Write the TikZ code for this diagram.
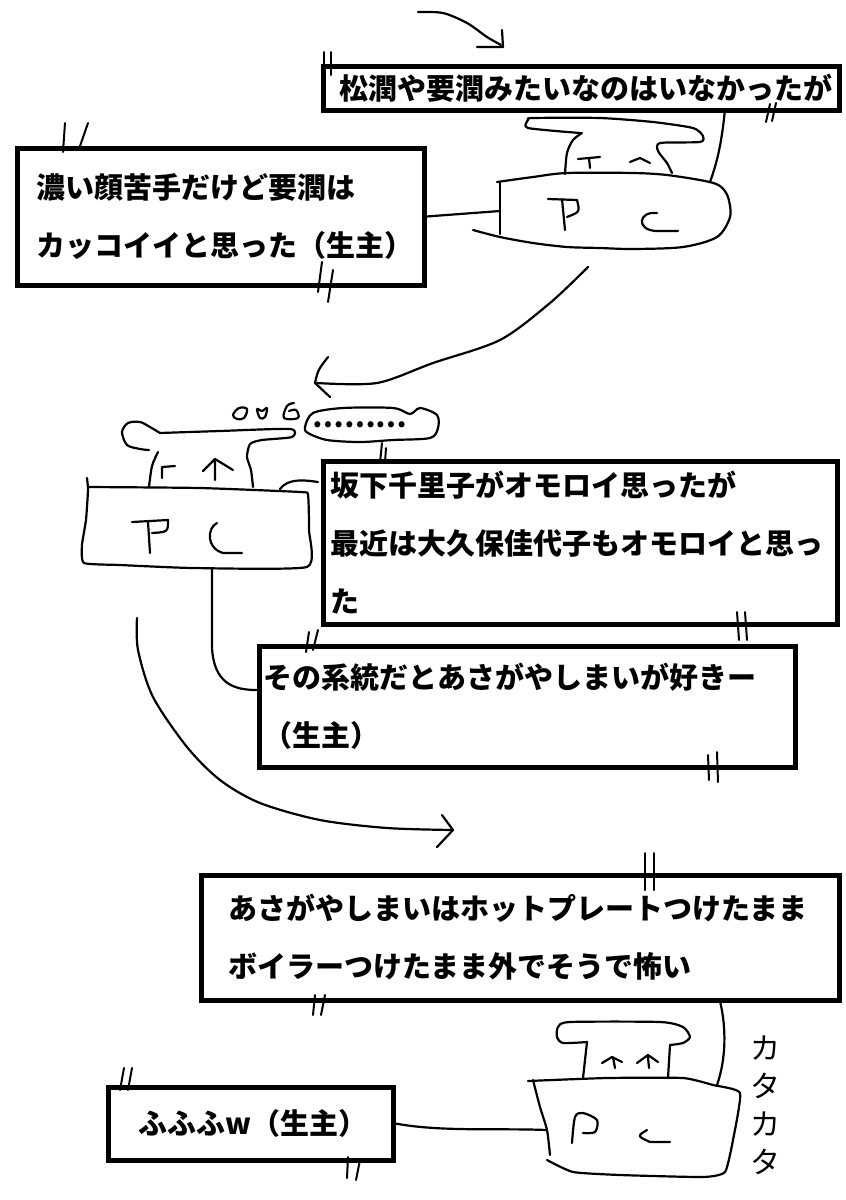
\documentclass[tikz,border=0pt]{standalone}
\usepackage{fontspec}
\newfontfamily\jpfont{Noto Sans CJK JP}
\usetikzlibrary{positioning}
\tikzset{hand/.style={line width=2.2pt, line cap=round, line join=round},
	tick/.style={line width=2pt, line cap=round},
	msgbox/.style={draw, line width=5pt, anchor=north west, align=left, inner ysep=0pt,
		font=\jpfont\bfseries\fontsize{29pt}{58pt}\selectfont},
	scribble/.style={align=center, inner sep=0pt, font=\jpfont\fontsize{30pt}{38pt}\selectfont}}

\begin{document}
\begin{tikzpicture}[x=1pt,y=-1pt]
		\useasboundingbox[fill=white] (0,0) rectangle (846,1200);
		% text boxes
		\node[msgbox, text width=492pt, inner xsep=12pt, minimum height=44pt] (msgtop) at (320.5,63.5) {\hspace*{4pt}松潤や要潤みたいなのはいなかったが};
		\node[msgbox, text width=379pt, inner xsep=14pt, minimum height=137pt] (msgleft) at (14.5,145.5) {\hspace*{5pt}濃い顔苦手だけど要潤は\\\hspace*{5pt}カッコイイと思った（生主）};
		\node[msgbox, text width=500pt, inner xsep=7pt, minimum height=163pt] (msgA) at (320.5,458.5) {坂下千里子がオモロイ思ったが\\最近は大久保佳代子もオモロイと思っ\\た};
		\node[msgbox, text width=528pt, inner xsep=4pt, minimum height=121pt] (msgB) at (256.5,643.5) {その系統だとあさがやしまいが好きー\\ （生主）};
		\node[msgbox, text width=584pt, inner xsep=27pt, minimum height=125pt] (msgC) at (198.5,872.5) {あさがやしまいはホットプレートつけたまま\\ボイラーつけたまま外でそうで怖い};
		\node[msgbox, text width=225pt, inner xsep=30pt, minimum height=73pt] (msgD) at (105.5,1084.5) {ふふふw（生主）};
		
		% first PC
		\coordinate (pcone) at (500,211);
		\coordinate (pconetop) at (710,182);
		\draw[hand] plot[smooth, tension=0.5] coordinates {(473,230) (500,237) (533,243) (567,247) (600,248) (633,249) (683,247) (717,237) (730,217) (728,197) (720,186) (705,181) (667,175) (633,173) (567,173) (533,177) (497,182)};
		\draw[hand] (500,182) -- (500,234);
		\draw[hand] plot[smooth, tension=0.5] coordinates {(565,174) (567,153) (573,140) (582,133)};
		\draw[hand] plot[smooth, tension=0.4] coordinates {(580,133) (528,128) (528,120) (533,118) (600,118) (653,122) (693,128) (703,136) (700,142) (660,143) (658,151) (667,163) (672,173)};
		\draw[hand] (578,159) -- (600,157) (589,158) -- (590,168);
		\draw[hand] (630,162) -- (640,158) -- (650,163);
		\draw[hand] (548,199) -- (577,200) (562,199) -- (565,230);
		\draw[hand] (577,200) .. controls (580,212) .. (567,217);
		\draw[hand] (657,213) .. controls (638,211) and (636,230) .. (656,231) -- (678,231);
		\draw[hand] (msgleft.east) -- (pcone);
		\draw[hand] (725,109) .. controls (722,140) and (718,160) .. (pconetop);
		
		% second PC
		\coordinate (pctwo) at (212,568);
		\coordinate (boxAin) at (318,482);
		\draw[hand] plot[smooth, tension=0.3] coordinates {(87,478) (88,490) (86,520) (82,545) (84,563) (120,565) (193,568) (307,567) (309,530) (308,495) (300,492) (200,488) (88,487)};
		\draw[hand] plot[smooth, tension=0.5] coordinates {(160,433) (150,427) (140,422) (128,423) (122,432) (127,445) (140,449) (149,450)};
		\draw[hand] plot[smooth, tension=0.5] coordinates {(158,452) (152,466) (149,487)};
		\draw[hand] plot[smooth, tension=0.4] coordinates {(160,433) (220,431) (290,429) (292,437) (262,440) (250,444) (247,457) (251,470) (253,487)};
		\draw[hand] (162,478) -- (162,467) -- (175,466);
		\draw[hand] (203,471) -- (215,459) -- (233,470) (215,460) -- (215,480);
		\draw[hand] (132,522) -- (168,520) (148,522) -- (150,553);
		\draw[hand] (168,520) .. controls (168,532) .. (152,533);
		\draw[hand] (217,523) .. controls (207,528) and (206,548) .. (223,553) -- (242,553);
		\draw[hand] plot[smooth cycle, tension=0.6] coordinates {(233,415) (239,408) (247,409) (244,418) (237,419)};
		\draw[hand] plot[smooth cycle, tension=0.6] coordinates {(257,409) (262,411) (267,408) (265,417) (260,418)};
		\draw[hand] plot[smooth, tension=0.6] coordinates {(294,403) (287,406) (284,418) (298,418) (296,410) (289,411)};
		\draw[hand] plot[smooth cycle, tension=0.5] coordinates {(305,427) (313,413) (343,408) (393,408) (410,414) (420,408) (437,415) (438,428) (430,438) (393,440) (360,442) (327,440) (308,433)};
		\node[font=\jpfont\bfseries\fontsize{28pt}{30pt}\selectfont, inner sep=0pt] (thought) at (360,425) {………};
		\draw[hand] (280,489) .. controls (288,478) and (305,480) .. (boxAin);
		\draw[hand] (pctwo) -- (212,648) .. controls (214,682) and (232,690) .. (msgB.west |- 0,690);
		
		% third PC
		\coordinate (pcthree) at (546,1130);
		\coordinate (pcthreetop) at (717,1085);
		\draw[hand] plot[smooth, tension=0.3] coordinates {(528,1081) (607,1078) (683,1078) (713,1085) (740,1093) (733,1140) (725,1172) (703,1177) (620,1175) (573,1172) (547,1160)};
		\draw[hand] plot[smooth, tension=0.4] coordinates {(533,1080) (540,1107) (547,1130) (550,1155)};
		\draw[hand] (583,1078) -- (587,1042);
		\draw[hand] plot[smooth, tension=0.4] coordinates {(587,1042) (563,1043) (557,1037) (558,1027) (570,1022) (660,1022) (683,1027) (690,1037) (683,1043) (670,1045)};
		\draw[hand] (670,1045) -- (668,1078);
		\draw[hand] (602,1063) -- (612,1057) -- (622,1062) (613,1057) -- (615,1068);
		\draw[hand] (637,1063) -- (648,1055) -- (658,1062) (648,1057) -- (649,1068);
		\draw[hand] plot[smooth, tension=0.5] coordinates {(572,1143) (575,1117) (583,1113) (597,1120) (595,1132) (583,1133)};
		\draw[hand] (647,1130) .. controls (637,1136) .. (650,1142) -- (670,1142);
		\draw[hand] (720,1001) .. controls (728,1035) and (724,1065) .. (pcthreetop);
		\draw[hand] (msgD.east) .. controls (440,1132) and (500,1128) .. (pcthree);
		\node[scribble] (clatter) at (765,1105) {カ\\タ\\カ\\タ};
		
		% arrows
		\draw[hand] plot[smooth] coordinates {(418,12) (443,13) (467,23) (487,37) (501,45)};
		\draw[hand] (502,30) -- (503,47) -- (477,47);
		\draw[hand] plot[smooth] coordinates {(588,267) (550,303) (500,340) (433,363) (377,383) (317,383)};
		\draw[hand] (328,357) .. controls (318,370) .. (315,383) -- (330,397);
		\draw[hand] plot[smooth] coordinates {(137,618) (138,650) (153,697) (187,747) (220,780) (260,803) (320,820) (387,828) (453,830)};
		\draw[hand] (442,815) -- (453,830) -- (437,847);
		
		% ticks
		\draw[tick] (324,52) -- (324,75) (331,52) -- (331,75);
		\draw[tick] (766,122) -- (770,104) (772,121) -- (776,103);
		\draw[tick] (65,123) -- (63,152) (88,123) -- (79,149);
		\draw[tick] (322,262) -- (318,292) (333,270) -- (328,302);
		\draw[tick] (382,443) -- (380,463) (386,448) -- (385,462);
		\draw[tick] (737,612) -- (739,640) (745,612) -- (747,640);
		\draw[tick] (306,652) -- (309,632) (313,650) -- (318,630);
		\draw[tick] (708,755) -- (709,780) (717,752) -- (718,782);
		\draw[tick] (645,853) -- (645,890) (654,853) -- (654,890);
		\draw[tick] (313,1015) -- (315,995) (321,1015) -- (325,995);
		\draw[tick] (120,1090) -- (124,1068) (128,1090) -- (132,1068);
		\draw[tick] (347,1178) -- (348,1157) (356,1180) -- (360,1160);
		\end{tikzpicture}
\end{document}
